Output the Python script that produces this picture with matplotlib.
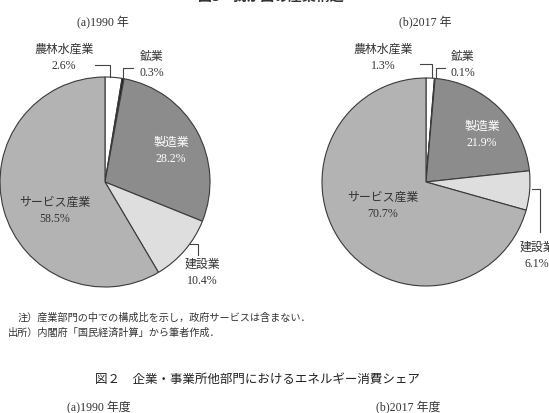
import matplotlib.pyplot as plt

plt.rcParams['font.family'] = ['Liberation Serif', 'Noto Sans CJK JP']

# Shares of each sector (%), clockwise from 12 o'clock
sectors = ['農林水産業', '鉱業', '製造業', '建設業', 'サービス産業']
share_1990 = [2.6, 0.3, 28.2, 10.4, 58.5]
share_2017 = [1.3, 0.1, 21.9, 6.1, 70.7]
colors = ['#ffffff', '#1a1a1a', '#8c8c8c', '#dedede', '#b3b3b3']

W, H = 549, 414
fig = plt.figure(figsize=(W / 100, H / 100), dpi=100)
ax = fig.add_axes([0, 0, 1, 1])

def Y(y):
    # convert pixel row to data y
    return H - y

txt = '#333333'
fs = 8.6

def pie(cx, cy, r, vals):
    ax.pie(vals, colors=colors, startangle=90, counterclock=False,
           center=(cx, Y(cy)), radius=r, frame=True,
           wedgeprops=dict(edgecolor='#3a3a3a', linewidth=0.8))

def label(x, y, name, val, color=txt):
    ax.text(x, Y(y), name, ha='center', va='center', fontsize=fs, color=color)
    ax.text(x, Y(y + 16), f'{val}%', ha='center', va='center', fontsize=fs, color=color)

def leader(xs, ys):
    ax.plot(xs, [Y(v) for v in ys], color='#444444', lw=0.8)

# (a) 1990
pie(105, 183, 105, share_1990)
label(64, 50, sectors[0], share_1990[0])
label(152, 57, sectors[1], share_1990[1])
label(171, 143, sectors[2], share_1990[2], color='white')
label(55, 203, sectors[4], share_1990[4])
label(202, 265, sectors[3], share_1990[3])
leader([95, 110, 110], [66, 66, 78])
leader([123, 123, 133], [79, 69, 69])
leader([190, 198, 198], [245, 245, 256])

# (b) 2017
pie(426, 183, 104, share_2017)
label(383, 50, sectors[0], share_2017[0])
label(463, 57, sectors[1], share_2017[1])
label(482, 127, sectors[2], share_2017[2], color='white')
label(383, 198, sectors[4], share_2017[4])
label(537, 248, sectors[3], share_2017[3])
leader([420, 432, 432], [65, 65, 78])
leader([436, 436, 445], [79, 69, 69])
leader([532, 540, 540], [190, 190, 233])

# titles (top one is cut off at the upper edge, as in the source)
ax.text(271, Y(3.5), '図1　我が国の産業構造', ha='center', va='bottom',
        fontsize=10, color=txt, fontweight='bold')
ax.text(103, Y(23), '(a)1990 年', ha='center', va='center', fontsize=fs, color=txt)
ax.text(425, Y(23), '(b)2017 年', ha='center', va='center', fontsize=fs, color=txt)

ax.text(18, Y(318), '注）産業部門の中での構成比を示し，政府サービスは含まない．',
        ha='left', va='center', fontsize=7.3, color=txt)
ax.text(8, Y(333), '出所）内閣府「国民経済計算」から筆者作成．',
        ha='left', va='center', fontsize=7.3, color=txt)

ax.text(257, Y(380), '図２　企業・事業所他部門におけるエネルギー消費シェア',
        ha='center', va='center', fontsize=9.0, color='#222222')
ax.text(99, Y(408), '(a)1990 年度', ha='center', va='center', fontsize=fs, color=txt)
ax.text(408, Y(408), '(b)2017 年度', ha='center', va='center', fontsize=fs, color=txt)

ax.set_xlim(0, W)
ax.set_ylim(0, H)
ax.set_aspect('equal')
ax.axis('off')

fig.savefig('out.png', dpi=100)
